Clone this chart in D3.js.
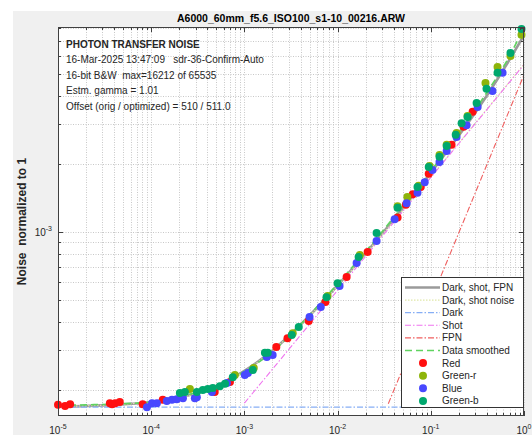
<!DOCTYPE html>
<html>
<head>
<meta charset="utf-8">
<script src="https://cdn.jsdelivr.net/npm/d3@7"></script>
<style>
  body { margin: 0; background: #fff; }
  svg { display: block; font-family: "Liberation Sans", Arial, sans-serif; }
  text { white-space: pre; }
</style>
</head>
<body>
<svg id="chart" width="532" height="435"></svg>
<script>
// ---------- data ----------
const titleText = "A6000_60mm_f5.6_ISO100_s1-10_00216.ARW";
const yLabelText = "Noise  normalized to 1";
const infoLines = [
  "PHOTON TRANSFER NOISE",
  "16-Mar-2025 13:47:09   sdr-36-Confirm-Auto",
  "16-bit B&W  max=16212 of 65535",
  "Estm. gamma = 1.01",
  "Offset (orig / optimized) = 510 / 511.0"
];

const xLimits = [1e-5, 1];
const yLimits = [1.535e-4, 8.07e-3];
const xMajorTicks = [1e-5, 1e-4, 1e-3, 1e-2, 1e-1, 1];
const xTickExps = ["-5", "-4", "-3", "-2", "-1", "0"];
const yMajorTicks = [1e-3];
const yTickExps = ["-3"];

// model curves
const totalX = [1e-5, 3e-5, 1e-4, 2e-4, 4e-4, 7e-4, 1e-3, 2e-3, 4e-3, 7e-3, 1e-2, 2e-2, 4e-2, 7e-2, 0.1, 0.2, 0.4, 0.7, 1];
const totalY = [1.69e-4, 1.71e-4, 1.77e-4, 1.85e-4, 2.01e-4, 2.23e-4, 2.43e-4, 2.99e-4, 3.89e-4, 4.94e-4, 5.80e-4, 8.06e-4, 1.136e-3, 1.51e-3, 1.83e-3, 2.67e-3, 4.02e-3, 5.79e-3, 7.43e-3];
const darkShotX = [1e-5, 1e-4, 3e-4, 1e-3, 3e-3, 1e-2, 3e-2, 0.1, 0.3, 1];
const darkShotY = [1.69e-4, 1.77e-4, 1.93e-4, 2.42e-4, 3.46e-4, 5.78e-4, 9.72e-4, 1.757e-3, 3.03e-3, 5.53e-3];
const darkX = [1e-5, 1];
const darkY = [1.68e-4, 1.68e-4];
const shotX = [1e-3, 1];
const shotY = [1.75e-4, 5.5e-3];
const fpnX = [0.035, 1];
const fpnY = [1.74e-4, 4.96e-3];
const smoothX = [1e-5, 2e-5, 5e-5, 1e-4, 2e-4, 4e-4, 7e-4, 1e-3, 2e-3, 4e-3, 1e-2, 2e-2, 4e-2, 0.1, 0.2, 0.4, 0.7, 0.95];
const smoothY = [1.71e-4, 1.72e-4, 1.74e-4, 1.77e-4, 1.88e-4, 2.0e-4, 2.22e-4, 2.42e-4, 2.95e-4, 3.9e-4, 5.9e-4, 8.2e-4, 1.16e-3, 1.86e-3, 2.75e-3, 4.15e-3, 6.0e-3, 7.7e-3];

// measured points per channel
const redX = [1.0e-5, 1.19e-5, 1.35e-5, 3.6e-5, 3.8e-5, 4.1e-5, 4.6e-5, 8.1e-5, 1.33e-4, 4.8e-4, 7.0e-4, 2.2e-3, 2.9e-3, 4.9e-3, 7.4e-3, 1.25e-2, 2.1e-2, 4.4e-2, 5.4e-2, 6.4e-2, 7.8e-2, 9.5e-2, 0.167, 0.225, 0.281];
const redY = [1.72e-4, 1.70e-4, 1.73e-4, 1.75e-4, 1.73e-4, 1.75e-4, 1.77e-4, 1.73e-4, 1.81e-4, 1.96e-4, 2.17e-4, 3.10e-4, 3.39e-4, 4.04e-4, 4.90e-4, 6.32e-4, 8.16e-4, 1.16e-3, 1.32e-3, 1.47e-3, 1.58e-3, 1.81e-3, 2.43e-3, 2.92e-3, 3.40e-3];
const greenRX = [2.60e-4, 7.9e-4, 1.26e-3, 3.30e-3, 7.8e-3, 1.73e-2, 4.4e-2, 5.6e-2, 7.4e-2, 9.7e-2, 0.124, 0.148, 0.189, 0.248, 0.386, 0.520, 0.716, 0.94];
const greenRY = [2.02e-4, 2.33e-4, 2.50e-4, 3.57e-4, 5.21e-4, 7.91e-4, 1.30e-3, 1.43e-3, 1.60e-3, 1.96e-3, 2.19e-3, 2.43e-3, 2.74e-3, 3.26e-3, 4.56e-3, 5.37e-3, 6.01e-3, 7.45e-3];
const blueX = [9.0e-5, 1.02e-4, 1.15e-4, 1.47e-4, 1.67e-4, 1.88e-4, 2.19e-4, 2.94e-4, 3.09e-4, 4.48e-4, 6.5e-4, 1.01e-3, 1.09e-3, 1.74e-3, 2.01e-3, 5.0e-3, 6.6e-3, 1.05e-2, 1.60e-2, 2.62e-2, 4.09e-2, 5.5e-2, 7.2e-2, 8.6e-2, 0.104, 0.124, 0.148, 0.189, 0.242, 0.318, 0.459, 0.589];
const blueY = [1.68e-4, 1.75e-4, 1.75e-4, 1.79e-4, 1.81e-4, 1.82e-4, 1.84e-4, 1.84e-4, 1.86e-4, 1.96e-4, 2.15e-4, 2.33e-4, 2.38e-4, 2.80e-4, 2.86e-4, 4.21e-4, 4.66e-4, 5.77e-4, 7.30e-4, 9.12e-4, 1.14e-3, 1.34e-3, 1.49e-3, 1.66e-3, 1.88e-3, 2.04e-3, 2.28e-3, 2.63e-3, 2.97e-3, 3.57e-3, 4.21e-3, 5.06e-3];
const greenBX = [2.03e-4, 2.30e-4, 3.09e-4, 3.58e-4, 4.05e-4, 4.58e-4, 5.45e-4, 6.2e-4, 7.5e-4, 1.23e-3, 1.66e-3, 1.78e-3, 3.22e-3, 3.83e-3, 7.6e-3, 1.00e-2, 1.68e-2, 2.62e-2, 4.4e-2, 7.2e-2, 9.5e-2, 0.124, 0.148, 0.185, 0.214, 0.248, 0.310, 0.396, 0.520, 0.716, 0.94];
const greenBY = [1.94e-4, 1.96e-4, 1.96e-4, 2.00e-4, 2.02e-4, 2.04e-4, 2.08e-4, 2.13e-4, 2.28e-4, 2.45e-4, 2.92e-4, 2.92e-4, 3.50e-4, 3.80e-4, 5.15e-4, 5.94e-4, 7.75e-4, 9.9e-4, 1.28e-3, 1.58e-3, 1.94e-3, 2.15e-3, 2.40e-3, 2.69e-3, 3.03e-3, 3.23e-3, 3.72e-3, 4.30e-3, 5.06e-3, 6.20e-3, 7.91e-3];

const legendLabels = ["Dark, shot, FPN", "Dark, shot noise", "Dark", "Shot", "FPN", "Data smoothed", "Red", "Green-r", "Blue", "Green-b"];

// ---------- layout ----------
const box = { left: 58, right: 524, top: 27, bottom: 416 };
const ink = "#262626";
const dotR = 4;

const svg = d3.select("#chart");
const zip = (xs, ys) => xs.map((v, i) => [v, ys[i]]);

const x = d3.scaleLog().domain(xLimits).range([box.left, box.right]);
const y = d3.scaleLog().domain(yLimits).range([box.bottom, box.top]);

// figure background
svg.append("rect").attr("x", 13).attr("y", 11).attr("width", 532 - 13).attr("height", 435 - 11).attr("fill", "#f0f0f0");
svg.append("rect").attr("x", box.left).attr("y", box.top)
  .attr("width", box.right - box.left).attr("height", box.bottom - box.top).attr("fill", "#fff");

svg.append("clipPath").attr("id", "clip").append("rect")
  .attr("x", box.left).attr("y", box.top)
  .attr("width", box.right - box.left).attr("height", box.bottom - box.top);

// grid
const xTicksAll = x.ticks();
const yTicksAll = y.ticks();
const grid = svg.append("g").attr("stroke", "#c8c8c8").attr("stroke-width", 1).attr("stroke-dasharray", "1,1.5");
grid.selectAll(".gx").data(xTicksAll).join("line")
  .attr("x1", d => Math.round(x(d)) + 0.5).attr("x2", d => Math.round(x(d)) + 0.5)
  .attr("y1", box.top).attr("y2", box.bottom);
grid.selectAll(".gy").data(yTicksAll).join("line")
  .attr("y1", d => Math.round(y(d)) + 0.5).attr("y2", d => Math.round(y(d)) + 0.5)
  .attr("x1", box.left).attr("x2", box.right);

// curves
const plot = svg.append("g").attr("clip-path", "url(#clip)");
const line = d3.line().x(d => x(d[0])).y(d => y(d[1]));
const smoothLine = d3.line().x(d => x(d[0])).y(d => y(d[1])).curve(d3.curveMonotoneX);

const curveStyles = [
  { data: zip(totalX, totalY), gen: smoothLine, stroke: "#9a9a9a", width: 2.6, dash: null },
  { data: zip(darkShotX, darkShotY), gen: smoothLine, stroke: "#dfe8a8", width: 1.2, dash: "1.5,1.5" },
  { data: zip(darkX, darkY), gen: line, stroke: "#86aef5", width: 1.2, dash: "6,2,1.5,2" },
  { data: zip(shotX, shotY), gen: line, stroke: "#ef74ef", width: 1.1, dash: "6,2,1.5,2" },
  { data: zip(fpnX, fpnY), gen: line, stroke: "#ef5f5f", width: 1.1, dash: "6,2,1.5,2" },
  { data: zip(smoothX, smoothY), gen: smoothLine, stroke: "#5fd35f", width: 1.6, dash: "7,4" }
];
curveStyles.forEach(c => {
  plot.append("path").attr("d", c.gen(c.data)).attr("fill", "none")
    .attr("stroke", c.stroke).attr("stroke-width", c.width)
    .attr("stroke-dasharray", c.dash);
});

// dots
const channels = [
  { xs: redX, ys: redY, color: "#ff1010" },
  { xs: greenRX, ys: greenRY, color: "#8db40a" },
  { xs: blueX, ys: blueY, color: "#4848ff" },
  { xs: greenBX, ys: greenBY, color: "#00a86e" }
];
channels.forEach(ch => {
  svg.append("g").selectAll("circle").data(zip(ch.xs, ch.ys)).join("circle")
    .attr("cx", d => x(d[0])).attr("cy", d => y(d[1])).attr("r", dotR)
    .attr("fill", ch.color);
});

// ticks, inward on all four sides
const tickG = svg.append("g").attr("stroke", "#404040").attr("stroke-width", 1);
const isMajor = v => Math.abs(Math.log10(v) - Math.round(Math.log10(v))) < 1e-9;
xTicksAll.forEach(v => {
  const px = Math.round(x(v)) + 0.5, len = isMajor(v) ? 5 : 3;
  tickG.append("line").attr("x1", px).attr("x2", px).attr("y1", box.bottom).attr("y2", box.bottom - len);
  tickG.append("line").attr("x1", px).attr("x2", px).attr("y1", box.top).attr("y2", box.top + len);
});
yTicksAll.forEach(v => {
  const py = Math.round(y(v)) + 0.5, len = isMajor(v) ? 5 : 3;
  tickG.append("line").attr("y1", py).attr("y2", py).attr("x1", box.left).attr("x2", box.left + len);
  tickG.append("line").attr("y1", py).attr("y2", py).attr("x1", box.right).attr("x2", box.right - len);
});

// frame
svg.append("rect").attr("x", box.left + 0.5).attr("y", box.top + 0.5)
  .attr("width", box.right - box.left - 1).attr("height", box.bottom - box.top - 1)
  .attr("fill", "none").attr("stroke", "#404040").attr("stroke-width", 1);

// tick labels (10 with superscript exponent)
xMajorTicks.forEach((v, i) => {
  const t = svg.append("text").attr("x", x(v)).attr("y", 434).attr("text-anchor", "middle")
    .attr("font-size", 10).attr("fill", ink);
  t.append("tspan").text("10");
  t.append("tspan").attr("dy", -5).attr("font-size", 7).text(xTickExps[i]);
});
yMajorTicks.forEach((v, i) => {
  const t = svg.append("text").attr("x", box.left - 6).attr("y", y(v) + 4).attr("text-anchor", "end")
    .attr("font-size", 10).attr("fill", ink);
  t.append("tspan").text("10");
  t.append("tspan").attr("dy", -5).attr("font-size", 7).text(yTickExps[i]);
});

// title and labels
svg.append("text").attr("x", (box.left + box.right) / 2).attr("y", 22).attr("text-anchor", "middle")
  .attr("font-size", 10.5).attr("font-weight", "bold").attr("fill", "#000").text(titleText);
svg.append("text").attr("transform", `translate(26,${(box.top + box.bottom) / 2}) rotate(-90)`)
  .attr("text-anchor", "middle").attr("font-size", 12).attr("font-weight", "bold").attr("fill", ink)
  .text(yLabelText);

infoLines.forEach((s, i) => {
  svg.append("text").attr("x", 66).attr("y", 47.5 + i * 15.5)
    .attr("font-size", 10).attr("font-weight", i === 0 ? "bold" : "normal")
    .attr("fill", ink).text(s);
});

// legend
const lg = { x: 401, y: 277, w: 122, h: 130, row: 12.6, first: 287.5 };
svg.append("rect").attr("x", lg.x + 0.5).attr("y", lg.y + 0.5).attr("width", lg.w).attr("height", lg.h)
  .attr("fill", "#fff").attr("stroke", "#333").attr("stroke-width", 1);
legendLabels.forEach((label, i) => {
  const cy = lg.first + i * lg.row;
  if (i < curveStyles.length) {
    const c = curveStyles[i];
    svg.append("line").attr("x1", lg.x + 4).attr("x2", lg.x + 39).attr("y1", cy).attr("y2", cy)
      .attr("stroke", c.stroke).attr("stroke-width", c.width).attr("stroke-dasharray", c.dash);
  } else {
    svg.append("circle").attr("cx", lg.x + 22).attr("cy", cy).attr("r", dotR)
      .attr("fill", channels[i - curveStyles.length].color);
  }
  svg.append("text").attr("x", lg.x + 41).attr("y", cy + 3.5).attr("font-size", 10)
    .attr("fill", ink).text(label);
});
</script>
</body>
</html>
